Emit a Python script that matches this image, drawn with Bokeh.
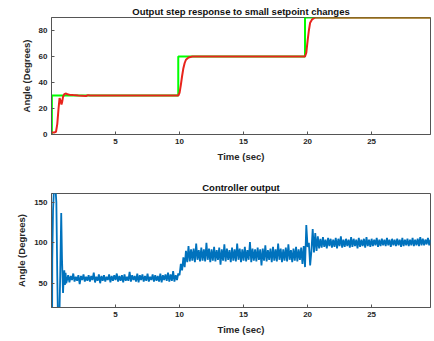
import numpy as np
from bokeh.plotting import figure
from bokeh.layouts import column
from bokeh.models import Range1d, FixedTicker
from bokeh.embed import file_html
from bokeh.resources import INLINE

# ---- data ----
x_ticks = [5, 10, 15, 20, 25]
top_y_ticks = [0, 20, 40, 60, 80]
bot_y_ticks = [50, 100, 150]

# setpoint (step, held after each time)
sp_t = [0.0, 0.03, 9.9, 19.8, 29.6]
sp_y = [0, 30, 60, 90, 90]

# measured angle
resp_t = [0.0, 0.2, 0.35, 0.45, 0.55, 0.63, 0.7, 0.78, 0.83, 0.9, 1.0, 1.1, 1.25, 1.4, 1.7, 2.1,
          2.7, 2.85, 3.0, 9.9, 10.0, 10.1, 10.2, 10.3, 10.4, 10.5, 10.7, 11.0, 19.8, 19.9, 20.0,
          20.1, 20.2, 20.35, 20.6, 29.6]
resp_y = [1.5, 1.5, 2.0, 8, 20, 28, 26, 23, 25, 29, 31, 31.5, 31, 30.6, 30.3, 30,
          29.6, 30.3, 30, 30, 32, 38, 45, 51, 55, 57.5, 59.3, 60, 60, 63, 72,
          80, 86, 88.5, 90, 90]

# controller output, start-up transient
ctrl_t_early = [0.0, 0.05, 0.06, 0.12, 0.2, 0.3, 0.38, 0.45, 0.5, 0.62, 0.68, 0.76, 0.82,
                0.9, 0.95, 1.0, 1.05, 1.1, 1.15]
ctrl_y_early = [0, 10, 80, 140, 170, 170, 150, 60, 10, 10, 60, 137, 80,
                38, 55, 66, 48, 63, 50]

# controller output from 1.2 s on, sampled every 0.1 s
ctrl_t0 = 1.2
ctrl_dt = 0.1
ctrl_y = [
    53, 60, 51, 59, 54, 62, 52, 58,
    53, 60, 49, 59, 54, 61, 52, 58, 53, 60,
    52, 59, 54, 63, 51, 58, 53, 61, 50, 59,
    53, 60, 52, 58, 54, 61, 51, 59, 53, 60,
    54, 62, 52, 59, 53, 60, 51, 61, 53, 58,
    53, 64, 52, 60, 54, 59, 52, 62, 51, 60,
    54, 61, 52, 59, 53, 62, 52, 58, 54, 61,
    52, 60, 53, 59, 52, 62, 51, 60, 54, 61,
    53, 63, 52, 61, 53, 65, 52, 60, 54, 62,
    60, 74, 66, 82, 70, 90, 76, 96, 77, 92,
    78, 93, 76, 99, 79, 91, 77, 94, 78, 92,
    77, 100, 79, 93, 76, 92, 78, 95, 77, 91,
    79, 94, 73, 92, 78, 98, 77, 93, 79, 91,
    76, 94, 78, 92, 77, 99, 79, 93, 76, 92,
    78, 95, 77, 91, 79, 101, 76, 93, 78, 92,
    77, 94, 79, 92, 72, 93, 78, 97, 77, 91,
    79, 93, 76, 95, 78, 92, 77, 99, 79, 93,
    76, 92, 78, 94, 77, 98, 79, 91, 76, 93,
    78, 95, 77, 92, 79, 94, 74, 96, 70, 122,
    95, 100, 72, 90, 117, 88, 112, 90, 108, 93,
    105, 94, 107, 95, 104, 93, 106, 96, 105, 94,
    104, 95, 106, 93, 105, 96, 108, 94, 104, 95,
    105, 96, 104, 94, 107, 95, 105, 96, 104, 93,
    106, 95, 104, 96, 105, 94, 107, 96, 104, 95,
    105, 96, 104, 97, 106, 95, 104, 96, 105, 97,
    104, 96, 106, 97, 104, 95, 105, 97, 104, 96,
    105, 97, 104, 95, 106, 96, 104, 97, 105, 96,
    104, 97, 106, 96, 104, 97, 105, 96, 107, 97,
    105, 97, 104, 98, 106, 97, 104,
]

titles = ["Output step response to small setpoint changes", "Controller output"]
x_label = "Time (sec)"
y_label = "Angle (Degrees)"

FONT = "Liberation Sans"
TXT = "#262626"


def style(p, yticks):
    p.xaxis.ticker = FixedTicker(ticks=x_ticks)
    p.yaxis.ticker = FixedTicker(ticks=yticks)
    for ax in p.axis:
        ax.major_label_text_font = FONT
        ax.major_label_text_font_size = "8px"
        ax.major_label_text_font_style = "bold"
        ax.major_label_text_color = TXT
        ax.axis_label_text_font = FONT
        ax.axis_label_text_font_size = "9.5px"
        ax.axis_label_text_font_style = "bold"
        ax.axis_label_text_color = TXT
        ax.axis_line_color = "#555555"
        ax.major_tick_line_color = "#555555"
        ax.major_tick_in = 3
        ax.major_tick_out = 0
        ax.minor_tick_line_color = None
        ax.major_label_standoff = 4
        ax.axis_label_standoff = 4
    p.xaxis.axis_label = x_label
    p.yaxis.axis_label = y_label
    p.xgrid.grid_line_color = None
    p.ygrid.grid_line_color = None
    p.outline_line_color = "#555555"
    p.title.text_font = FONT
    p.title.text_font_size = "9.5px"
    p.title.text_font_style = "bold"
    p.title.text_color = "#111111"
    p.title.align = "center"
    p.title.standoff = 2
    p.background_fill_color = "white"
    p.border_fill_color = "white"


p1 = figure(width=434, height=170, output_backend="svg", toolbar_location=None,
            x_range=Range1d(0, 29.6), y_range=Range1d(0, 90), title=titles[0],
            min_border_left=51, min_border_right=4, min_border_top=17, min_border_bottom=36)
style(p1, top_y_ticks)
p1.step(sp_t, sp_y, mode="after", line_color="#00FF00", line_width=2)
p1.line(resp_t, resp_y, line_color="#E8241C", line_width=2)

ct = list(ctrl_t_early) + [round(ctrl_t0 + ctrl_dt * i, 2) for i in range(len(ctrl_y))]
cy = list(ctrl_y_early) + list(ctrl_y)

p2 = figure(width=434, height=171, output_backend="svg", toolbar_location=None,
            x_range=Range1d(0, 29.6), y_range=Range1d(20, 161), title=titles[1],
            min_border_left=51, min_border_right=4, min_border_top=23, min_border_bottom=34)
style(p2, bot_y_ticks)
p2.line(ct, cy, line_color="#0072BD", line_width=1.8)

layout = column(p1, p2, spacing=0)
open("out.html", "w").write(file_html(layout, INLINE))
